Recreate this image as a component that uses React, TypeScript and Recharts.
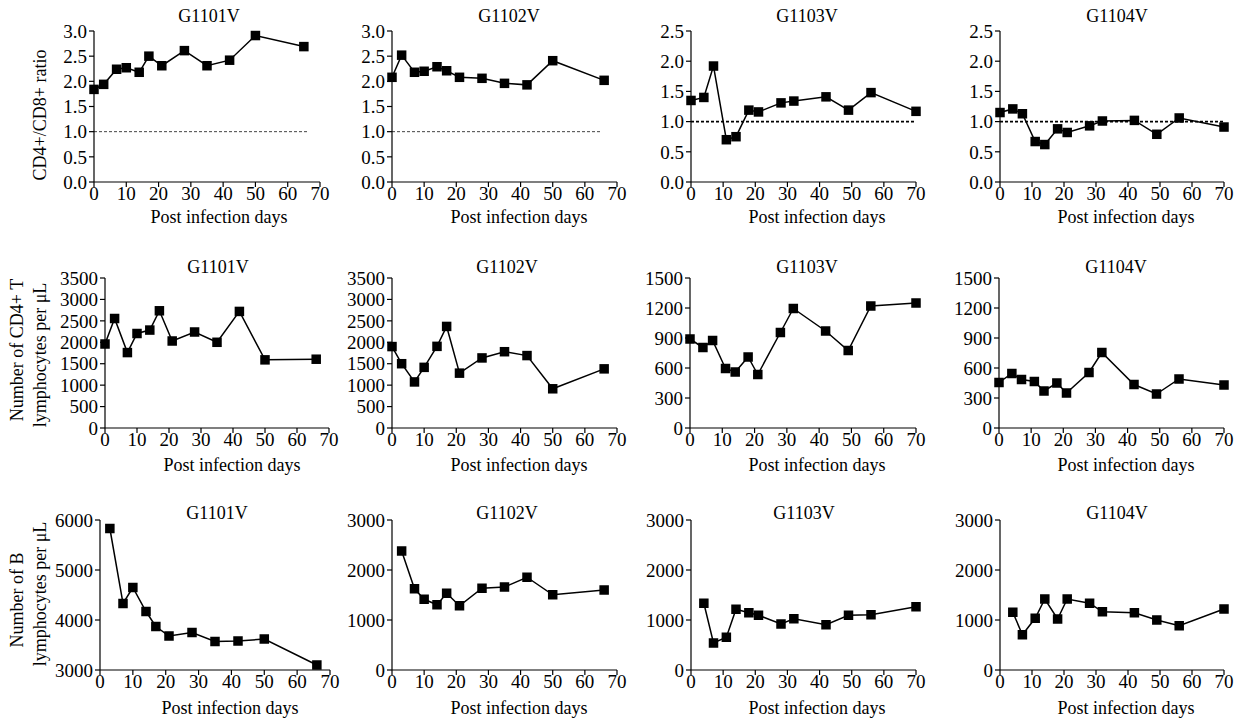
import React from 'react';
import { LineChart, Line, XAxis, YAxis, ReferenceLine } from 'recharts';

const FONT = '"Liberation Serif", "Times New Roman", serif';

// sampling days
const DAYS_A = [0, 3, 7, 10, 14, 17, 21, 28, 35, 42, 50, 65];
const DAYS_B = [0, 3, 7, 10, 14, 17, 21, 28, 35, 42, 50, 66];
const DAYS_C = [0, 4, 7, 11, 14, 18, 21, 28, 32, 42, 49, 56, 70];
const DAYS_B3 = [3, 7, 10, 14, 17, 21, 28, 35, 42, 50, 66];
const DAYS_C3 = [4, 7, 11, 14, 18, 21, 28, 32, 42, 49, 56, 70];

// CD4+/CD8+ ratio
const RATIO_1101 = [1.84, 1.94, 2.24, 2.27, 2.18, 2.5, 2.31, 2.61, 2.31, 2.42, 2.91, 2.69];
const RATIO_1102 = [2.08, 2.52, 2.18, 2.2, 2.29, 2.21, 2.08, 2.06, 1.96, 1.93, 2.41, 2.02];
const RATIO_1103 = [1.35, 1.4, 1.92, 0.7, 0.75, 1.19, 1.16, 1.31, 1.34, 1.41, 1.19, 1.48, 1.17];
const RATIO_1104 = [1.15, 1.21, 1.13, 0.67, 0.62, 0.88, 0.82, 0.93, 1.01, 1.02, 0.79, 1.06, 0.91];

// CD4+ T lymphocytes per uL
const CD4_1101 = [1960, 2555, 1760, 2205, 2285, 2735, 2030, 2240, 2000, 2720, 1590, 1605];
const CD4_1102 = [1900, 1500, 1075, 1415, 1905, 2370, 1280, 1635, 1780, 1690, 915, 1380];
const CD4_1103 = [890, 805, 875, 595, 560, 710, 535, 955, 1195, 970, 775, 1220, 1250];
const CD4_1104 = [455, 545, 485, 465, 370, 450, 350, 555, 755, 435, 340, 490, 430];

// B lymphocytes per uL
const B_1101 = [5830, 4330, 4650, 4170, 3870, 3680, 3750, 3570, 3580, 3620, 3100];
const B_1102 = [2380, 1625, 1415, 1305, 1535, 1285, 1635, 1660, 1855, 1505, 1600];
const B_1103 = [1335, 540, 655, 1215, 1145, 1095, 920, 1025, 905, 1095, 1105, 1265];
const B_1104 = [1155, 705, 1035, 1420, 1020, 1420, 1335, 1165, 1145, 1000, 885, 1220];

const X_TICKS = [0, 10, 20, 30, 40, 50, 60, 70];
const RATIO_TICKS_3 = [0, 0.5, 1, 1.5, 2, 2.5, 3];
const RATIO_TICKS_25 = [0, 0.5, 1, 1.5, 2, 2.5];
const CD4_TICKS_35 = [0, 500, 1000, 1500, 2000, 2500, 3000, 3500];
const CD4_TICKS_15 = [0, 300, 600, 900, 1200, 1500];
const B_TICKS_6 = [3000, 4000, 5000, 6000];
const B_TICKS_3 = [0, 1000, 2000, 3000];

const fmt1 = (v: number) => v.toFixed(1);
const fmt0 = (v: number) => String(v);

const ROWS = [
  { y0: 31, y1: 182, titleY: 16, labelY: 217 },
  { y0: 278, y1: 428, titleY: 267, labelY: 465 },
  { y0: 520, y1: 670, titleY: 513, labelY: 708 },
];

const PANELS = [
  { row: 0, title: 'G1101V', x0: 94, x1: 320, tx: 209, lx: 219, days: DAYS_A, values: RATIO_1101, domain: [0, 3], ticks: RATIO_TICKS_3, fmt: fmt1, refEnd: 66, refDark: false },
  { row: 0, title: 'G1102V', x0: 392, x1: 617, tx: 509, lx: 519, days: DAYS_B, values: RATIO_1102, domain: [0, 3], ticks: RATIO_TICKS_3, fmt: fmt1, refEnd: 65, refDark: false },
  { row: 0, title: 'G1103V', x0: 691, x1: 916, tx: 807, lx: 817, days: DAYS_C, values: RATIO_1103, domain: [0, 2.5], ticks: RATIO_TICKS_25, fmt: fmt1, refEnd: 70, refDark: true },
  { row: 0, title: 'G1104V', x0: 1000, x1: 1224, tx: 1117, lx: 1126, days: DAYS_C, values: RATIO_1104, domain: [0, 2.5], ticks: RATIO_TICKS_25, fmt: fmt1, refEnd: 70, refDark: true },
  { row: 1, title: 'G1101V', x0: 105, x1: 329, tx: 218, lx: 232, days: DAYS_B, values: CD4_1101, domain: [0, 3500], ticks: CD4_TICKS_35, fmt: fmt0 },
  { row: 1, title: 'G1102V', x0: 392, x1: 617, tx: 507, lx: 519, days: DAYS_B, values: CD4_1102, domain: [0, 3500], ticks: CD4_TICKS_35, fmt: fmt0 },
  { row: 1, title: 'G1103V', x0: 690, x1: 916, tx: 807, lx: 817, days: DAYS_C, values: CD4_1103, domain: [0, 1500], ticks: CD4_TICKS_15, fmt: fmt0 },
  { row: 1, title: 'G1104V', x0: 999, x1: 1224, tx: 1116, lx: 1126, days: DAYS_C, values: CD4_1104, domain: [0, 1500], ticks: CD4_TICKS_15, fmt: fmt0 },
  { row: 2, title: 'G1101V', x0: 100, x1: 330, tx: 217, lx: 230, days: DAYS_B3, values: B_1101, domain: [3000, 6000], ticks: B_TICKS_6, fmt: fmt0 },
  { row: 2, title: 'G1102V', x0: 392, x1: 617, tx: 507, lx: 519, days: DAYS_B3, values: B_1102, domain: [0, 3000], ticks: B_TICKS_3, fmt: fmt0 },
  { row: 2, title: 'G1103V', x0: 691, x1: 916, tx: 804, lx: 817, days: DAYS_C3, values: B_1103, domain: [0, 3000], ticks: B_TICKS_3, fmt: fmt0 },
  { row: 2, title: 'G1104V', x0: 1000, x1: 1224, tx: 1117, lx: 1126, days: DAYS_C3, values: B_1104, domain: [0, 3000], ticks: B_TICKS_3, fmt: fmt0 },
];

const tickStyle = { fill: '#000', fontSize: 19, fontFamily: FONT };

function Square(props: any) {
  const { cx, cy, index } = props;
  if (cx == null || cy == null) return <g key={index} />;
  return <rect key={index} x={cx - 4.75} y={cy - 4.75} width={9.5} height={9.5} fill="#000" />;
}

function Text({ x, y, children, rotate }: any) {
  return (
    <div
      style={{
        position: 'absolute',
        left: x,
        top: y,
        transform: `translate(-50%, -50%)${rotate ? ' rotate(-90deg)' : ''}`,
        whiteSpace: 'nowrap',
        fontFamily: FONT,
        fontSize: 18,
        lineHeight: '20px',
        color: '#000',
      }}
    >
      {children}
    </div>
  );
}

function Panel({ p }: any) {
  const r = ROWS[p.row];
  const YW = 60, RP = 20, TP = 12, XH = 30;
  const w = p.x1 - p.x0 + YW + RP;
  const h = r.y1 - r.y0 + TP + XH;
  const data = p.days.map((d: number, i: number) => ({ day: d, v: p.values[i] }));
  return (
    <>
      <div style={{ position: 'absolute', left: p.x0 - YW, top: r.y0 - TP }}>
        <LineChart width={w} height={h} data={data} margin={{ top: TP, right: RP, left: 0, bottom: 0 }}>
          <XAxis
            type="number"
            dataKey="day"
            domain={[0, 70]}
            ticks={X_TICKS}
            interval={0}
            height={XH}
            axisLine={{ stroke: '#000', strokeWidth: 1.2 }}
            tickLine={{ stroke: '#000', strokeWidth: 1.2 }}
            tickSize={5}
            tickMargin={0}
            tick={tickStyle}
          />
          <YAxis
            type="number"
            domain={p.domain}
            ticks={p.ticks}
            interval={0}
            width={YW}
            axisLine={{ stroke: '#000', strokeWidth: 1.2 }}
            tickLine={{ stroke: '#000', strokeWidth: 1.2 }}
            tickSize={5}
            tickMargin={2}
            tick={tickStyle}
            tickFormatter={p.fmt}
          />
          {p.refEnd ? (
            <ReferenceLine
              segment={[{ x: 0, y: 1 }, { x: p.refEnd, y: 1 }]}
              stroke={p.refDark ? '#000' : '#444'}
              strokeWidth={p.refDark ? 1.6 : 1}
              strokeDasharray="3 2"
            />
          ) : null}
          <Line
            type="linear"
            dataKey="v"
            stroke="#000"
            strokeWidth={1.5}
            dot={Square}
            activeDot={false}
            isAnimationActive={false}
          />
        </LineChart>
      </div>
      <Text x={p.tx} y={r.titleY}>{p.title}</Text>
      <Text x={p.lx} y={r.labelY}>Post infection days</Text>
    </>
  );
}

export default function App() {
  return (
    <div style={{ position: 'absolute', left: 0, top: 0, width: 1249, height: 721, background: '#fff', overflow: 'hidden' }}>
      {PANELS.map((p, i) => (
        <Panel key={i} p={p} />
      ))}
      <Text x={40} y={115} rotate>CD4+/CD8+ ratio</Text>
      <Text x={17} y={350} rotate>Number of CD4+ T</Text>
      <Text x={40} y={355} rotate>lymphocytes per μL</Text>
      <Text x={17} y={600} rotate>Number of B</Text>
      <Text x={40} y={594} rotate>lymphocytes per μL</Text>
    </div>
  );
}
